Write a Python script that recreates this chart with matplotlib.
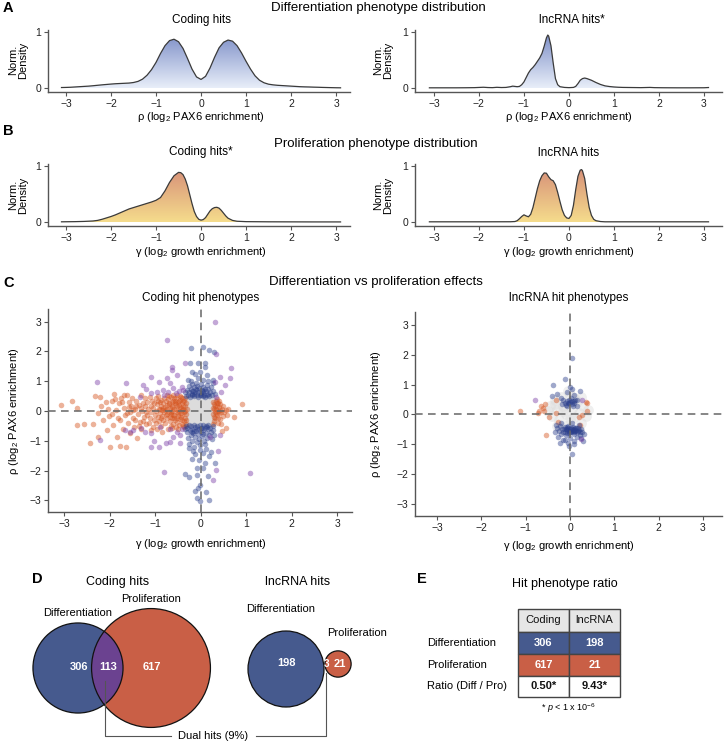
import numpy as np
import matplotlib
matplotlib.use("Agg")
import matplotlib.pyplot as plt
from matplotlib.colors import LinearSegmentedColormap
from matplotlib.patches import Circle, PathPatch, Rectangle

plt.rcParams['font.family'] = ['Liberation Sans', 'DejaVu Sans']
plt.rcParams['mathtext.fontset'] = 'custom'
plt.rcParams['mathtext.rm'] = 'Liberation Sans'
plt.rcParams['mathtext.it'] = 'Liberation Sans:italic'
plt.rcParams['mathtext.bf'] = 'Liberation Sans:bold'

# ---------------- DATA ----------------
# A: differentiation (rho) normalised densities
diff_coding_x = [-3.1,-3.0,-2.9,-2.8,-2.7,-2.6,-2.5,-2.4,-2.3,-2.2,-2.1,-2.0,-1.9,-1.8,-1.7,-1.6,-1.5,-1.4,-1.3,-1.2,-1.1,-1.0,-0.9,-0.8,-0.7,-0.6,-0.5,-0.4,-0.3,-0.2,-0.1,0.0,0.1,0.2,0.3,0.4,0.5,0.6,0.7,0.8,0.9,1.0,1.1,1.2,1.3,1.4,1.5,1.6,1.7,1.8,1.9,2.0,2.1,2.2,2.3,2.4,2.5,2.6,2.7,2.8,2.9,3.0,3.1]
diff_coding_y = [0.01,0.012,0.015,0.02,0.025,0.03,0.035,0.042,0.05,0.058,0.065,0.072,0.078,0.082,0.086,0.09,0.10,0.12,0.16,0.23,0.33,0.46,0.62,0.76,0.85,0.875,0.83,0.71,0.53,0.34,0.2,0.155,0.21,0.36,0.55,0.72,0.82,0.86,0.84,0.76,0.63,0.48,0.34,0.22,0.14,0.095,0.07,0.058,0.05,0.045,0.04,0.035,0.03,0.025,0.022,0.02,0.017,0.015,0.012,0.01,0.008,0.006,0.005]
diff_lnc_x = [-3.1,-2.9,-2.7,-2.5,-2.3,-2.1,-1.9,-1.8,-1.7,-1.6,-1.5,-1.4,-1.3,-1.25,-1.2,-1.15,-1.1,-1.05,-1.0,-0.95,-0.9,-0.85,-0.8,-0.75,-0.7,-0.65,-0.6,-0.55,-0.5,-0.47,-0.45,-0.4,-0.35,-0.3,-0.25,-0.2,-0.1,0.0,0.1,0.15,0.2,0.25,0.3,0.35,0.4,0.5,0.6,0.7,0.8,0.9,1.0,1.1,1.2,1.4,1.6,1.8,1.9,2.1,2.4,2.7,3.0,3.1]
diff_lnc_y = [0.005,0.005,0.005,0.005,0.006,0.008,0.015,0.01,0.008,0.014,0.01,0.012,0.025,0.035,0.03,0.025,0.03,0.06,0.11,0.19,0.27,0.33,0.37,0.42,0.48,0.54,0.62,0.75,0.9,0.95,0.93,0.76,0.45,0.17,0.06,0.025,0.012,0.008,0.012,0.03,0.08,0.14,0.17,0.18,0.17,0.14,0.1,0.065,0.04,0.028,0.02,0.015,0.012,0.01,0.008,0.012,0.008,0.006,0.005,0.005,0.006,0.01]

# B: proliferation (gamma) normalised densities
pro_coding_x = [-3.1,-2.8,-2.6,-2.4,-2.3,-2.2,-2.1,-2.0,-1.9,-1.8,-1.7,-1.6,-1.5,-1.4,-1.3,-1.2,-1.1,-1.0,-0.9,-0.8,-0.7,-0.6,-0.5,-0.45,-0.4,-0.35,-0.3,-0.25,-0.2,-0.15,-0.1,-0.05,0.0,0.05,0.1,0.15,0.2,0.25,0.3,0.35,0.4,0.45,0.5,0.55,0.6,0.7,0.8,1.0,1.5,2.0,2.5,3.1]
pro_coding_y = [0.005,0.008,0.012,0.02,0.03,0.05,0.075,0.10,0.13,0.165,0.2,0.235,0.26,0.285,0.31,0.335,0.36,0.39,0.44,0.56,0.71,0.83,0.89,0.885,0.85,0.77,0.65,0.49,0.33,0.19,0.1,0.05,0.035,0.045,0.08,0.14,0.2,0.24,0.26,0.265,0.25,0.21,0.16,0.11,0.07,0.03,0.015,0.008,0.005,0.004,0.003,0.003]
pro_lnc_x = [-3.1,-2.0,-1.3,-1.2,-1.15,-1.1,-1.05,-1.0,-0.95,-0.9,-0.85,-0.8,-0.75,-0.7,-0.65,-0.6,-0.55,-0.5,-0.45,-0.4,-0.35,-0.3,-0.25,-0.2,-0.15,-0.1,-0.05,0.0,0.05,0.1,0.15,0.2,0.25,0.28,0.3,0.35,0.4,0.45,0.5,0.55,0.6,0.7,0.8,3.1]
pro_lnc_y = [0.005,0.005,0.006,0.01,0.025,0.06,0.1,0.13,0.11,0.095,0.14,0.26,0.43,0.6,0.74,0.83,0.88,0.875,0.81,0.76,0.74,0.67,0.53,0.37,0.22,0.12,0.075,0.065,0.12,0.3,0.58,0.82,0.93,0.94,0.92,0.78,0.5,0.26,0.12,0.05,0.025,0.01,0.005,0.005]

# C: coding hit phenotypes (gamma, rho)
coding_gray = [(-0.25,0.40),(-0.15,0.42),(-0.05,0.40),(0.05,0.41),(0.15,0.40),(0.22,0.38),
    (-0.24,0.25),(-0.14,0.28),(-0.04,0.24),(0.06,0.27),(0.16,0.25),(0.23,0.22),
    (-0.26,0.10),(-0.16,0.12),(-0.06,0.08),(0.04,0.11),(0.14,0.09),(0.22,0.06),
    (-0.25,-0.05),(-0.15,-0.03),(-0.05,-0.06),(0.05,-0.04),(0.15,-0.07),(0.23,-0.02),
    (-0.24,-0.20),(-0.14,-0.18),(-0.04,-0.22),(0.06,-0.19),(0.16,-0.21),(0.22,-0.24),
    (-0.25,-0.36),(-0.15,-0.34),(-0.05,-0.38),(0.05,-0.35),(0.15,-0.37),(0.22,-0.38)]
coding_pro = [(-3.07,0.20),(-2.83,0.35),(-2.72,0.10),(-2.71,-0.48),(-2.55,-0.45),(-2.42,-1.07),(-2.36,-0.44),(-2.32,0.50),(-2.26,-0.86),(-2.25,-0.06),(-2.20,0.48),(-2.18,0.15),(-2.14,-0.30),(-2.08,0.31),(-2.05,-0.64),(-2.03,0.05),(-2.02,-0.18),
    (-1.98,-1.20),(-1.95,0.35),(-1.93,-0.47),(-1.90,0.58),(-1.86,0.02),(-1.84,-0.86),(-1.80,0.25),(-1.78,-1.18),(-1.76,-0.32),(-1.74,0.45),(-1.71,-0.60),(-1.69,0.10),(-1.66,-0.15),(-1.64,-1.20),(-1.62,0.55),(-1.60,-0.40),(-1.58,0.30),(-1.56,-0.05),(-1.54,-0.75),(-1.52,0.15),(-1.50,0.45),(-1.48,-0.25),(-1.46,-0.55),(-1.44,0.05),(-1.42,0.35),(-1.40,-0.90),(-1.38,-0.10),(-1.36,0.20),(-1.34,-0.38),(-1.32,0.52),(-1.30,-0.62),(-1.28,0.00),(-1.26,0.28),(-1.24,-0.20),(-1.22,0.42),(-1.20,-0.45),
    (-1.95,-0.10),(-1.88,0.40),(-1.82,-0.25),(-1.72,0.30),(-1.68,0.52),(-1.61,-0.08),(-1.57,0.12),(-1.49,0.02),(-1.45,-0.32),(-1.41,0.18),(-1.35,-0.50),(-1.31,0.10),(-1.27,-0.35),(-1.23,0.15),(-1.21,-0.05),
    (-1.18,0.30),(-1.17,-0.15),(-1.15,0.05),(-1.14,-0.40),(-1.12,0.48),(-1.11,-0.25),(-1.10,0.18),(-1.08,-0.05),(-1.07,0.35),(-1.05,-0.55),(-1.04,0.10),(-1.03,-0.30),(-1.02,0.25),(-1.00,-0.12),(-0.99,0.42),(-0.98,0.00),(-0.97,-0.42),(-0.96,0.22),(-0.94,-0.20),(-0.93,0.50),(-0.92,0.08),(-0.91,-0.35),(-0.90,0.30),(-0.89,-0.08),(-0.88,0.15),(-0.87,-0.50),(-0.86,0.38),(-0.85,-0.18),(-0.84,0.02),(-0.83,0.25),(-0.82,-0.30),(-0.81,0.45),(-0.80,-0.05),(-0.79,0.12),(-0.78,-0.42),(-0.77,0.32),(-0.76,-0.15),(-0.75,0.05),(-0.74,0.20),(-0.73,-0.25),(-0.72,0.40),(-0.71,-0.60),(-0.70,-0.02),(-0.69,0.28),(-0.68,-0.35),(-0.67,0.10),(-0.66,-0.10),(-0.65,0.48),(-0.64,0.18),(-0.63,-0.22),(-0.62,0.00),(-0.61,0.35),(-0.60,-0.45),(-0.59,0.08),(-0.58,-0.12),(-0.57,0.25),(-0.56,-0.30),(-0.55,0.42),(-0.54,0.05),(-0.53,-0.05),(-0.52,0.15),(-0.51,-0.38),(-0.50,0.30),(-0.49,-0.18),(-0.48,0.00),(-0.47,0.20),(-0.46,-0.28),(-0.45,0.38),(-0.44,-0.08),(-0.43,0.10),(-0.42,-0.45),(-0.41,0.25),(-0.40,-0.15),(-0.39,0.05),(-0.38,0.32),(-0.37,-0.35),(-0.36,-0.02),(-0.35,0.15),(-0.34,-0.22),(-0.33,0.28),(-0.32,-0.10),(-0.31,0.08),(-0.55,-0.55),(-0.65,-0.50),(-0.45,0.50),(-0.75,0.52),(-0.95,-0.62),(-0.50,-0.62),(-0.40,0.45),(-0.60,0.55),(-0.85,-0.70),(-1.10,-0.65),(-0.70,0.50),(-0.58,0.45),(-0.48,-0.48),(-0.38,-0.50),(-0.44,0.48),(-0.52,0.52),(-0.62,-0.58),(-0.35,0.42),(-0.33,-0.45),(-0.36,-0.55),
    (-0.42,0.02),(-0.46,0.12),(-0.50,-0.08),(-0.54,0.22),(-0.58,-0.25),(-0.62,0.12),(-0.66,-0.02),(-0.70,0.22),(-0.74,-0.10),(-0.78,0.02),(-0.40,-0.30),(-0.44,-0.20),(-0.48,0.35),(-0.52,-0.22),(-0.56,0.32),(-0.60,-0.15),(-0.64,0.30),(-0.68,-0.20),(-0.34,0.00),(-0.38,0.18),(-0.32,-0.32),(-0.36,0.35),(-0.82,0.10),(-0.86,-0.25),(-0.90,0.05),(-0.94,0.32),
    (0.26,0.30),(0.27,-0.10),(0.28,0.10),(0.29,-0.35),(0.30,0.22),(0.31,-0.02),(0.32,-0.25),(0.33,0.35),(0.34,0.05),(0.35,-0.15),(0.36,0.18),(0.37,-0.40),(0.38,0.00),(0.39,0.28),(0.40,-0.08),(0.41,0.12),(0.42,-0.28),(0.43,0.22),(0.44,-0.02),(0.45,-0.45),(0.46,0.08),(0.48,-0.18),(0.50,0.15),(0.52,-0.05),(0.55,0.02),(0.58,-0.12),(0.60,0.05),(0.91,0.22),(0.74,-0.20),(0.56,-0.56),(0.47,-0.67),(0.28,-0.45),(0.35,0.40),(0.30,-0.20),(0.40,0.35),
    (0.29,0.05),(0.33,-0.08),(0.36,0.28),(0.39,-0.22),(0.42,0.02),(0.32,0.15)]
coding_diff = [(-0.32,0.50),(-0.30,0.70),(-0.28,0.55),(-0.26,0.85),(-0.25,0.62),(-0.23,0.48),(-0.22,0.75),(-0.20,0.58),(-0.19,0.92),(-0.18,0.52),(-0.16,0.68),(-0.15,0.80),(-0.14,0.50),(-0.12,0.62),(-0.11,0.95),(-0.10,0.72),(-0.08,0.55),(-0.07,0.85),(-0.06,0.48),(-0.05,0.65),(-0.03,0.78),(-0.02,0.52),(0.00,0.60),(0.01,0.90),(0.02,0.70),(0.04,0.50),(0.05,0.82),(0.06,0.62),(0.08,0.55),(0.09,0.75),(0.10,0.48),(0.12,0.66),(0.13,0.88),(0.15,0.58),(0.16,0.72),(0.18,0.50),(0.20,0.62),(0.22,0.80),(0.24,0.55),(0.27,0.68),(-0.22,1.00),(0.05,1.05),(-0.05,1.12),(0.15,1.02),(0.28,0.95),(-0.35,0.65),(0.32,0.58),
    (-0.21,2.12),(0.05,2.15),(0.19,2.06),(0.29,1.98),(-0.24,1.62),(-0.06,1.62),(0.09,1.47),(-0.20,1.32),(-0.02,1.32),(0.14,1.21),(-0.28,1.05),(0.27,1.05),(0.10,1.60),(-0.12,1.25),
    (-0.33,-0.50),(-0.31,-0.72),(-0.29,-0.58),(-0.27,-0.90),(-0.26,-0.48),(-0.24,-0.65),(-0.22,-0.80),(-0.21,-0.52),(-0.19,-1.00),(-0.18,-0.60),(-0.16,-0.75),(-0.15,-0.46),(-0.13,-0.88),(-0.12,-0.55),(-0.10,-0.68),(-0.09,-1.05),(-0.07,-0.50),(-0.06,-0.78),(-0.04,-0.62),(-0.03,-0.95),(-0.01,-0.48),(0.00,-0.70),(0.02,-0.56),(0.03,-0.85),(0.05,-0.46),(0.06,-0.65),(0.08,-1.00),(0.09,-0.58),(0.11,-0.75),(0.12,-0.50),(0.14,-0.90),(0.15,-0.62),(0.17,-0.48),(0.18,-0.80),(0.20,-0.56),(0.22,-0.70),(0.24,-0.95),(0.26,-0.52),(0.28,-0.65),(-0.35,-0.60),(0.30,-0.80),(-0.25,-1.10),(0.10,-1.12),(-0.02,-1.15),(-0.14,-1.20),
    (-0.17,-1.34),(-0.02,-1.31),(0.12,-1.29),(0.18,-1.51),(-0.18,-1.62),(0.09,-1.76),(-0.09,-1.92),(0.05,-1.92),(-0.35,-2.11),(-0.26,-2.20),(-0.09,-2.15),(0.16,-2.18),(-0.02,-2.48),(-0.06,-2.60),(0.12,-2.71),(-0.09,-2.93),(-0.02,-3.01),(0.18,-3.00),(0.31,-1.76),(-0.04,-1.64),(0.05,-1.42),(-0.12,-1.45),(0.22,-1.38),(-0.25,-1.25),(-0.12,-2.68),
    (-0.20,0.66),(-0.08,0.70),(0.04,0.66),(0.14,0.52),(-0.14,0.58),(0.00,0.52),(-0.20,-0.70),(-0.08,-0.60),(0.04,-0.76),(0.14,-0.55),(-0.14,-0.66),(0.00,-0.58)]
coding_dual = [(0.31,3.00),(-0.75,2.38),(0.67,1.43),(0.34,1.90),(-0.35,1.62),(-0.62,1.49),(-0.62,1.38),(-2.28,0.96),(-1.64,0.95),(-1.26,0.87),(-1.08,1.15),(-0.91,0.98),(-0.75,1.10),(-0.68,0.93),(-0.53,1.21),(-0.41,0.82),(-0.82,0.70),(-1.08,0.59),(-1.34,0.48),(0.42,1.15),(0.64,1.10),(0.53,0.87),(0.31,0.98),(0.45,0.65),(0.34,0.48),
    (-1.66,-0.64),(-1.48,-0.64),(-1.23,-0.69),(-1.08,-0.73),(-1.03,-1.00),(-0.91,-1.20),(-1.08,-1.20),(-0.61,-0.86),(-0.46,-1.06),(-0.77,-1.08),(-0.68,-1.03),(-0.46,-0.80),(-2.21,-0.97),(-0.81,-2.04),(0.34,-1.98),(0.27,-2.32),(1.09,-2.09),(0.38,-1.36),(0.42,-0.80),(0.20,-0.86),
    (-0.95,0.62),(-0.72,0.65),(-0.55,0.60),(-0.80,0.55),(-0.48,0.68),(-1.30,-0.58),(-0.90,-0.55),(-0.68,-0.62),(-0.52,-0.72),(-0.42,-0.60),(-1.20,0.75),(-0.60,0.78),(-0.38,0.70),(-1.55,-0.72)]

# C: lncRNA hit phenotypes (gamma, rho)
lnc_gray = [(-0.45,0.30),(-0.35,0.50),(-0.30,0.15),(-0.25,-0.20),(-0.20,0.60),(-0.15,0.30),(-0.10,0.00),(-0.05,-0.35),(0.00,0.65),(0.05,0.20),(0.10,-0.10),(0.15,0.45),(0.20,0.05),(0.25,-0.30),(0.30,0.30),(0.35,-0.05),(-0.40,-0.05),(-0.50,0.10),(-0.20,-0.45),(0.20,-0.50),(0.40,0.15),(-0.05,0.80),(0.10,0.55),(-0.30,-0.40),(0.00,-0.15),(-0.15,0.10),(0.25,0.60),(-0.35,0.35)]
lnc_diff = [(0.04,1.90),(-0.11,1.20),(-0.39,1.00),(0.00,0.92),(-0.41,0.62),(0.23,0.78),(0.15,0.47),(0.04,-1.34),(-0.11,-0.87),(0.05,0.85),(-0.08,0.75),(-0.20,0.55),(0.08,0.65),
    (-0.12,0.40),(-0.08,0.45),(-0.04,0.38),(0.00,0.42),(0.04,0.35),(0.08,0.44),(-0.10,0.32),(-0.02,0.50),(0.06,0.30),(-0.15,0.48),(0.10,0.38),(-0.06,0.28),(0.02,0.55),(-0.18,0.35),(0.12,0.50),(-0.30,0.70),(0.15,0.30),
    (-0.30,-0.45),(-0.25,-0.55),(-0.22,-0.38),(-0.20,-0.65),(-0.18,-0.48),(-0.15,-0.58),(-0.12,-0.42),(-0.10,-0.70),(-0.08,-0.52),(-0.06,-0.62),(-0.04,-0.45),(-0.02,-0.55),(0.00,-0.48),(0.02,-0.60),(0.04,-0.50),(0.06,-0.42),(0.08,-0.56),(0.10,-0.65),(0.12,-0.47),(0.14,-0.53),(0.16,-0.60),(0.18,-0.44),(0.20,-0.52),(0.22,-0.68),(0.25,-0.48),(0.28,-0.58),(-0.28,-0.75),(-0.15,-0.85),(0.00,-0.80),(0.10,-0.90),(0.25,-0.80),(-0.05,-0.95),(0.15,-0.75),(-0.20,-0.30),(0.05,-0.30),(0.20,-0.35),(-0.35,-0.60),(0.32,-0.65),(-0.10,-0.50),(0.06,-0.52),(0.00,-0.58),(-0.05,-0.40),(0.10,-0.50),(-0.12,-0.60),(0.18,-0.56),(-0.02,-1.05),(0.08,-1.00),(-0.22,-0.95),(0.30,-0.90),(-0.32,-0.35),
    (-0.06,-0.50),(0.02,-0.45),(0.08,-0.60),(0.14,-0.45),(-0.14,-0.50),(0.22,-0.58),(-0.02,-0.62),(0.12,-0.56),(-0.08,-0.42),(0.04,-0.55),(-0.02,0.40),(0.04,0.45)]
lnc_pro = [(-1.12,0.11),(-0.65,0.28),(-0.56,0.36),(-0.69,0.13),(-0.58,0.11),(-0.32,0.47),(-0.32,0.04),(-0.47,-0.07),(-0.28,-0.26),(-0.54,-0.70),(0.38,0.38),(0.36,0.41),(0.39,0.10),(0.21,-0.07),(0.27,-0.03),(-0.62,0.20),(0.22,-0.35),(-0.72,0.05)]
lnc_dual = [(-0.80,0.50),(0.26,0.47),(0.25,-0.84)]

# D/E: hit counts
venn_sets = ['Differentiation', 'Proliferation']
coding_counts = {'diff_only': 306, 'dual': 113, 'pro_only': 617}
lnc_counts = {'diff_only': 198, 'dual': 3, 'pro_only': 21}
dual_pct = 9
table_cols = ['Coding', 'lncRNA']
table_rows = ['Differentiation', 'Proliferation', 'Ratio (Diff / Pro)']

# ---------------- STYLE ----------------
W, H = 724, 744
fig = plt.figure(figsize=(W / 100, H / 100), dpi=100)
BLUE, ORANGE, PURPLE = '#465a8e', '#c95f46', '#6b4290'
SPINE = '#555555'

def axpx(x0, y0, x1, y1):
    return fig.add_axes([x0 / W, 1 - y1 / H, (x1 - x0) / W, (y1 - y0) / H])

def ftext(x, y, s, **kw):
    kw.setdefault('ha', 'center')
    kw.setdefault('va', 'center')
    return fig.text(x / W, 1 - y / H, s, **kw)

def style_ax(ax):
    for s in ['top', 'right']:
        ax.spines[s].set_visible(False)
    for s in ['left', 'bottom']:
        ax.spines[s].set_color(SPINE)
        ax.spines[s].set_linewidth(1.0)
    ax.tick_params(colors=SPINE, labelcolor='#222222', labelsize=7.5, length=3, width=0.8, pad=2)

cmap_blue = LinearSegmentedColormap.from_list('b', ['#e8eef9', '#7a8cc6'])
cmap_or = LinearSegmentedColormap.from_list('o', ['#f5dc8c', '#d68d78'])

def density(ax, x, y, cmap, xlim):
    x = np.asarray(x); y = np.asarray(y)
    poly = ax.fill_between(x, y, 0, facecolor='none', edgecolor='none')
    path = poly.get_paths()[0]
    patch = PathPatch(path, transform=ax.transData, facecolor='none', edgecolor='none')
    ax.add_patch(patch)
    img = ax.imshow(np.linspace(0, 1, 256).reshape(-1, 1), cmap=cmap, aspect='auto',
                    extent=[x.min(), x.max(), 0, 1], origin='lower', zorder=1)
    img.set_clip_path(patch)
    ax.plot(x, y, color='#3a3a3a', lw=0.9, zorder=2)
    ax.set_xlim(*xlim)
    ax.set_ylim(-0.07, 1.04)
    ax.set_xticks([-3, -2, -1, 0, 1, 2, 3])
    ax.set_yticks([0, 1])
    style_ax(ax)

# Panel A
axA1 = axpx(48, 30, 350, 92)
density(axA1, diff_coding_x, diff_coding_y, cmap_blue, (-3.4, 3.31))
axA2 = axpx(415, 30, 722, 92)
density(axA2, diff_lnc_x, diff_lnc_y, cmap_blue, (-3.42, 3.4))
# Panel B
axB1 = axpx(48, 164, 350, 226)
density(axB1, pro_coding_x, pro_coding_y, cmap_or, (-3.4, 3.31))
axB2 = axpx(415, 164, 722, 226)
density(axB2, pro_lnc_x, pro_lnc_y, cmap_or, (-3.42, 3.4))

# Panel C
def scatter_panel(ax, gray, diff, pro, dual, gray_alpha, gray_s, xlim, ylim):
    g = np.array(gray)
    ax.scatter(g[:, 0], g[:, 1], s=gray_s, color='#dcdcdc', alpha=gray_alpha, lw=0, zorder=1)
    for pts, col in [(pro, '#d5541f'), (diff, '#2b3f8c'), (dual, '#7b3fa8')]:
        p = np.array(pts)
        ax.scatter(p[:, 0], p[:, 1], s=16, color=col, alpha=0.45, lw=0, zorder=2)
    ax.axhline(0, color='#666666', lw=1.1, dashes=(5, 3.5), zorder=3)
    ax.axvline(0, color='#666666', lw=1.1, dashes=(5, 3.5), zorder=3)
    ax.set_xlim(*xlim); ax.set_ylim(*ylim)
    ax.set_xticks([-3, -2, -1, 0, 1, 2, 3])
    ax.set_yticks([-3, -2, -1, 0, 1, 2, 3])
    style_ax(ax)

axC1 = axpx(48, 309, 352, 512)
scatter_panel(axC1, coding_gray, coding_diff, coding_pro, coding_dual, 1.0, 55, (-3.35, 3.32), (-3.39, 3.42))
axC2 = axpx(415, 312, 722, 516)
scatter_panel(axC2, lnc_gray, lnc_diff, lnc_pro, lnc_dual, 0.45, 60, (-3.5, 3.43), (-3.41, 3.44))

# Titles and labels
for (x, y, s) in [(3, 8, 'A'), (3, 131, 'B'), (3, 283, 'C'), (32, 579, 'D'), (417, 579, 'E')]:
    ftext(x, y, s, ha='left', fontsize=10.5, fontweight='bold')
ftext(378, 8, 'Differentiation phenotype distribution', fontsize=9.5)
ftext(376, 144, 'Proliferation phenotype distribution', fontsize=9.5)
ftext(376, 282, 'Differentiation vs proliferation effects', fontsize=9.5)
ftext(201, 20, 'Coding hits', fontsize=8.5)
ftext(572, 20, 'lncRNA hits*', fontsize=8.5)
ftext(201, 152, 'Coding hits*', fontsize=8.5)
ftext(569, 153, 'lncRNA hits', fontsize=8.5)
ftext(201, 298, 'Coding hit phenotypes', fontsize=8.5)
ftext(569, 298, 'lncRNA hit phenotypes', fontsize=8.5)
rho_lab = 'ρ (log$_2$ PAX6 enrichment)'
gam_lab = 'γ (log$_2$ growth enrichment)'
ftext(201, 117, rho_lab, fontsize=8)
ftext(569, 117, rho_lab, fontsize=8)
ftext(201, 252, gam_lab, fontsize=8)
ftext(569, 252, gam_lab, fontsize=8)
ftext(201, 544, gam_lab, fontsize=8)
ftext(569, 546, gam_lab, fontsize=8)
ftext(14, 411, rho_lab, fontsize=8, rotation=90)
ftext(376, 414, rho_lab, fontsize=8, rotation=90)
for (x, y) in [(18, 60), (383, 60), (18, 195), (383, 195)]:
    ftext(x, y, 'Norm.\nDensity', fontsize=8, rotation=90, linespacing=1.0)

# Panel D: Venn diagrams
axD = fig.add_axes([0, 0, 400 / W, 164 / H])
axD.set_xlim(0, 400); axD.set_ylim(744, 580); axD.axis('off')

def venn(ax, counts, cdiff, cpro, yc, scale):
    n_diff = counts['diff_only'] + counts['dual']
    n_pro = counts['pro_only'] + counts['dual']
    r1 = scale * np.sqrt(n_diff)
    r2 = scale * np.sqrt(n_pro)
    ax.add_patch(Circle((cdiff, yc[0]), r1, facecolor=BLUE, edgecolor='none', zorder=1))
    ax.add_patch(Circle((cpro, yc[1]), r2, facecolor=ORANGE, edgecolor='none', zorder=1))
    lens = Circle((cdiff, yc[0]), r1, facecolor=PURPLE, edgecolor='none', zorder=2)
    ax.add_patch(lens)
    clip = Circle((cpro, yc[1]), r2, transform=ax.transData)
    lens.set_clip_path(clip)
    for (cx, cy), r in [((cdiff, yc[0]), r1), ((cpro, yc[1]), r2)]:
        ax.add_patch(Circle((cx, cy), r, facecolor='none', edgecolor='#111111', lw=0.9, zorder=3))

venn(axD, coding_counts, 78, 151, (668, 668), 2.2)
venn(axD, lnc_counts, 286, 338, (669, 664), 2.68)
num_kw = dict(color='white', fontweight='bold', fontsize=8, ha='center', va='center', zorder=5)
axD.text(79, 667, str(coding_counts['diff_only']), **num_kw)
axD.text(108, 667, str(coding_counts['dual']), **num_kw)
axD.text(152, 667, str(coding_counts['pro_only']), **num_kw)
axD.text(286, 663, str(lnc_counts['diff_only']), **num_kw)
axD.text(326.5, 664, str(lnc_counts['dual']), **dict(num_kw, fontsize=7))
axD.text(340, 664, str(lnc_counts['pro_only']), **num_kw)
axD.text(78, 613, venn_sets[0], fontsize=8, ha='center', va='center')
axD.text(151, 599, venn_sets[1], fontsize=8, ha='center', va='center')
axD.text(281, 609, venn_sets[0], fontsize=8, ha='center', va='center')
axD.text(357, 633, venn_sets[1], fontsize=8, ha='center', va='center')
axD.text(118, 582, 'Coding hits', fontsize=9, ha='center', va='center')
axD.text(298, 582, 'lncRNA hits', fontsize=9, ha='center', va='center')
axD.plot([105, 105, 171], [681, 736, 736], color='#555555', lw=0.8, zorder=4)
axD.plot([256, 326, 326], [736, 736, 673], color='#555555', lw=0.8, zorder=4)
axD.text(213, 736, f'Dual hits ({dual_pct}%)', fontsize=8, ha='center', va='center')

# Panel E: table
axE = fig.add_axes([400 / W, 0, 324 / W, 164 / H])
axE.set_xlim(400, 724); axE.set_ylim(744, 580); axE.axis('off')
axE.text(565, 584, 'Hit phenotype ratio', fontsize=9, ha='center', va='center')
col_x = [518, 569, 620]
row_y = [609, 632, 654, 676, 697]
diff_vals = [coding_counts['diff_only'], lnc_counts['diff_only']]
pro_vals = [coding_counts['pro_only'], lnc_counts['pro_only']]
ratios = [d / p for d, p in zip(diff_vals, pro_vals)]
fills = ['#e6e6e6', BLUE, ORANGE, 'white']
cells = [table_cols, [str(v) for v in diff_vals], [str(v) for v in pro_vals],
         [f'{r:.2f}*' for r in ratios]]
for ri in range(4):
    for ci in range(2):
        x0, x1 = col_x[ci], col_x[ci + 1]
        y0, y1 = row_y[ri], row_y[ri + 1]
        axE.add_patch(Rectangle((x0, y0), x1 - x0, y1 - y0, facecolor=fills[ri],
                                edgecolor='#444444', lw=1.0))
        if ri == 0:
            kw = dict(color='#111111', fontsize=8)
        elif ri == 3:
            kw = dict(color='#111111', fontsize=8, fontweight='bold')
        else:
            kw = dict(color='white', fontsize=8, fontweight='bold')
        axE.text((x0 + x1) / 2, (y0 + y1) / 2, cells[ri][ci], ha='center', va='center', **kw)
for ri, lab in enumerate(table_rows):
    axE.text(427, (row_y[ri + 1] + row_y[ri + 2]) / 2, lab, fontsize=8, ha='left', va='center')
axE.text(568, 708, '* $p$ < 1 x 10$^{-6}$', fontsize=6.5, ha='center', va='center')

fig.savefig('out.png', dpi=100)
